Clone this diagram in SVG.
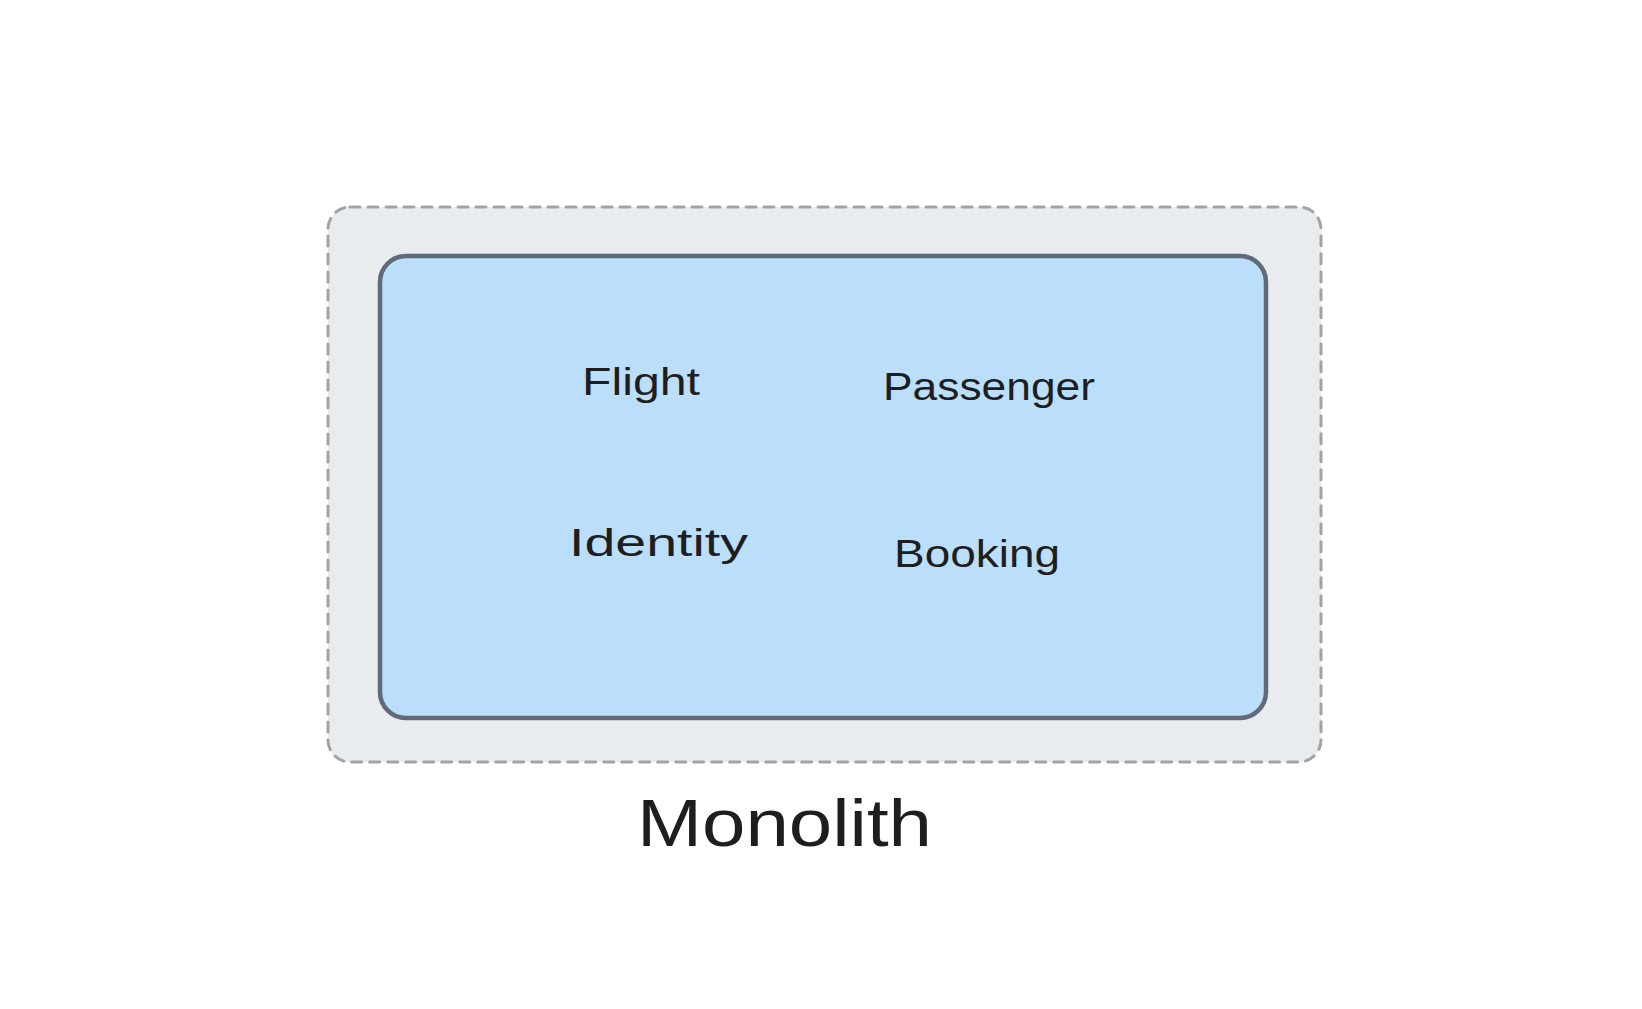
<svg xmlns="http://www.w3.org/2000/svg" width="1642" height="1009" viewBox="0 0 1642 1009">
<style>
.lbl{font-family:"Liberation Sans","Noto Sans",sans-serif;fill:#1e1e1e;}
.in{font-size:38px;}
</style>
<rect width="1642" height="1009" fill="#ffffff"/>
<g id="monolith-boundary">
<rect x="328" y="207" width="993" height="555" rx="22" fill="#e9ecef" stroke="#a3a3a3" stroke-width="3" stroke-dasharray="10 8" stroke-linecap="round"/>
</g>
<g id="monolith-core">
<rect x="380" y="256" width="886" height="462" rx="26" fill="#bbdefb" stroke="#5f6b78" stroke-width="4.5"/>
</g>
<g id="flight"><text class="lbl in" x="582" y="395" textLength="118" lengthAdjust="spacingAndGlyphs">Flight</text></g>
<g id="passenger"><text class="lbl in" x="883" y="400" textLength="212" lengthAdjust="spacingAndGlyphs">Passenger</text></g>
<g id="identity"><text class="lbl in" x="569" y="556" textLength="179" lengthAdjust="spacingAndGlyphs">Identity</text></g>
<g id="booking"><text class="lbl in" x="894" y="567" textLength="166" lengthAdjust="spacingAndGlyphs">Booking</text></g>
<g id="monolith-label"><text class="lbl" x="637" y="846" font-size="66" textLength="295" lengthAdjust="spacingAndGlyphs">Monolith</text></g>
<g id="connectors"></g>
</svg>
